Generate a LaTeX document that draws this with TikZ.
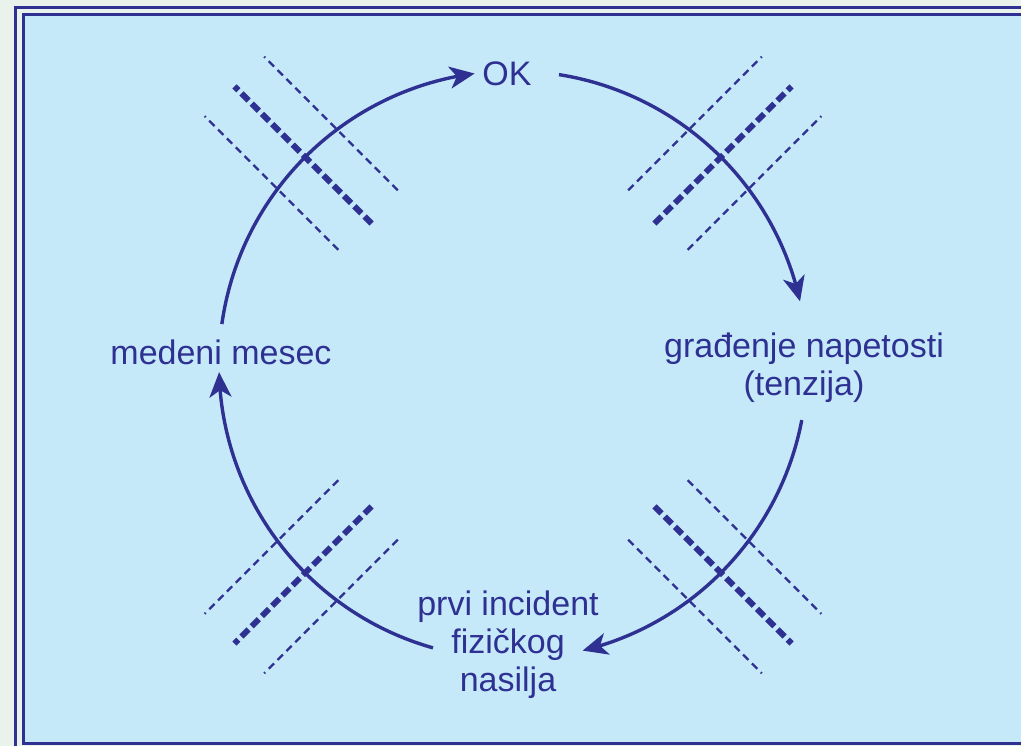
\documentclass[tikz,border=0pt]{standalone}
\usepackage{fontspec}
\setmainfont{Liberation Sans}
\usepackage{xcolor}
\usetikzlibrary{arrows.meta,bending}
\definecolor{ink}{HTML}{2E3192}
\definecolor{sky}{HTML}{C5E9F9}
\definecolor{paper}{HTML}{E9F3EC}

\begin{document}
\begin{tikzpicture}[x=1pt, y=1pt,
    every node/.style={text=ink, font=\fontsize{34}{38}\selectfont, align=center, inner sep=0pt},
    frame/.style={draw=ink, line width=3.5pt},
    cyc/.style={draw=ink, line width=3.4pt, -{Stealth[length=25pt,width=22pt,inset=7pt]}},
    thin dash/.style={draw=ink, line width=2.3pt, dash pattern=on 7.5pt off 5pt},
    thick dash/.style={draw=ink, line width=6pt, dash pattern=on 10pt off 4.5pt}]

\useasboundingbox (0,0) rectangle (1021,746);
\clip (0,0) rectangle (1021,746);
\fill[paper] (0,0) rectangle (1021,746);
\draw[frame] (15.5,-20) rectangle (1045,738.5);
\draw[frame, fill=sky] (23.5,2.5) rectangle (1035,731.5);

\coordinate (ctr) at (513,381);

% stages of the cycle
\node (ok) at (507,672) {OK};
\node (napetost) at (804,378) {građenje napetosti\\(tenzija)};
\node (incident) at (508,101) {prvi incident\\fizičkog\\nasilja};
\node (medeni) at (221,394) {medeni mesec};

% arrows round the circle
\draw[cyc] ([shift={(172:294)}]ctr) arc[start angle=172, end angle=97.5, radius=294];
\draw[cyc] ([shift={(81:294)}]ctr) arc[start angle=81, end angle=12.5, radius=294];
\draw[cyc] ([shift={(-10.8:294)}]ctr) arc[start angle=-10.8, end angle=-76.3, radius=294];
\draw[cyc] ([shift={(-105.8:294)}]ctr) arc[start angle=-105.8, end angle=-178.6, radius=294];

% broken lines across the circle
\foreach \a in {135,45,-45,-135}{
  \begin{scope}[shift={(ctr)}, rotate=\a]
    \draw[thin dash] (205,42) -- (394,42);
    \draw[thick dash] (200,0) -- (394,0);
    \draw[thin dash] (205,-42) -- (394,-42);
  \end{scope}
}
\end{tikzpicture}
\end{document}
